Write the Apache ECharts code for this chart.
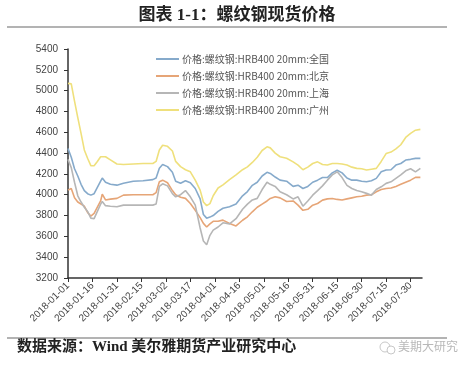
<!DOCTYPE html>
<html>
<head>
<meta charset="utf-8">
<script src="https://cdn.jsdelivr.net/npm/echarts@6/dist/echarts.min.js"></script>
<style>
  html, body { margin: 0; padding: 0; background: #fff; }
  #chart { width: 474px; height: 369px; }
</style>
</head>
<body>
<div id="chart"></div>
<script>
var seriesNames = ['价格:螺纹钢:HRB400 20mm:全国', '价格:螺纹钢:HRB400 20mm:北京', '价格:螺纹钢:HRB400 20mm:上海', '价格:螺纹钢:HRB400 20mm:广州']
var seriesColors = ['#86aacb', '#e6a577', '#b6b6b6', '#efe07c']

// sample dates, days after 2018-01-01
var days = [0, 2, 4, 6, 8, 10, 12, 14, 16, 18, 20, 21, 23, 26, 30, 34, 40, 46, 52, 54, 56, 58, 61, 64, 66, 69, 72, 75, 78, 81, 83, 85, 87, 89, 92, 95, 99, 103, 107, 110, 113, 116, 119, 122, 124, 127, 130, 134, 138, 141, 144, 147, 150, 153, 156, 159, 162, 165, 168, 171, 174, 177, 180, 183, 186, 189, 192, 195, 198, 201, 204, 207, 210, 213, 216]

var national = [4445, 4360, 4250, 4180, 4100, 4040, 4010, 3996, 4010, 4070, 4130, 4160, 4120, 4100, 4092, 4110, 4130, 4135, 4145, 4160, 4255, 4290, 4270, 4215, 4130, 4110, 4135, 4115, 4060, 3960, 3810, 3775, 3785, 3800, 3840, 3870, 3885, 3910, 3990, 4030, 4090, 4120, 4180, 4215, 4205, 4170, 4140, 4130, 4080, 4092, 4060, 4080, 4120, 4140, 4165, 4165, 4210, 4235, 4210, 4160, 4140, 4140, 4130, 4124, 4135, 4157, 4220, 4237, 4240, 4285, 4300, 4333, 4340, 4349, 4349]
var beijing = [4044, 4060, 3970, 3930, 3910, 3890, 3830, 3795, 3820, 3880, 3940, 4006, 3950, 3958, 3965, 3996, 4000, 4000, 4000, 4020, 4125, 4140, 4115, 4040, 4000, 3975, 3965, 3915, 3850, 3780, 3725, 3690, 3720, 3745, 3745, 3756, 3724, 3700, 3755, 3788, 3836, 3880, 3910, 3940, 3964, 3980, 3970, 3935, 3940, 3900, 3850, 3860, 3900, 3916, 3948, 3960, 3964, 3955, 3950, 3960, 3970, 3980, 3985, 3996, 4000, 4028, 4050, 4060, 4065, 4080, 4100, 4120, 4140, 4167, 4167]
var shanghai = [4340, 4260, 4120, 3990, 3930, 3880, 3840, 3775, 3770, 3840, 3910, 3935, 3895, 3890, 3884, 3900, 3900, 3900, 3900, 3910, 4080, 4105, 4085, 4010, 3980, 4000, 4040, 3980, 3900, 3680, 3555, 3520, 3610, 3660, 3690, 3730, 3720, 3770, 3860, 3910, 3950, 3965, 4050, 4120, 4100, 4080, 4028, 4000, 3960, 3980, 3890, 3940, 3996, 4040, 4085, 4140, 4190, 4220, 4165, 4090, 4060, 4040, 4028, 4013, 3996, 4050, 4076, 4109, 4124, 4157, 4190, 4230, 4250, 4220, 4253]
var guangzhou = [5070, 5065, 4900, 4740, 4590, 4430, 4350, 4280, 4278, 4320, 4365, 4372, 4365, 4335, 4295, 4290, 4295, 4300, 4300, 4320, 4430, 4475, 4465, 4420, 4320, 4270, 4240, 4220, 4140, 4044, 3930, 3895, 3915, 3990, 4065, 4095, 4145, 4190, 4240, 4268, 4310, 4360, 4425, 4460, 4450, 4400, 4365, 4350, 4316, 4285, 4240, 4265, 4300, 4316, 4290, 4285, 4300, 4300, 4295, 4285, 4265, 4253, 4250, 4237, 4245, 4253, 4320, 4395, 4410, 4440, 4480, 4550, 4590, 4620, 4628]

// x tick labels every 15 days
var tickDays = [0, 15, 30, 45, 60, 75, 90, 105, 120, 135, 150, 165, 180, 195, 210]

var baseDate = Date.UTC(2018, 0, 1)

function dayLabel(v) {
  var d = new Date(baseDate + v * 86400000)
  var m = d.getUTCMonth() + 1
  var dd = d.getUTCDate()
  return d.getUTCFullYear() + '-' + (m < 10 ? '0' + m : m) + '-' + (dd < 10 ? '0' + dd : dd)
}

function pairs(values) {
  var out = []
  for (var i = 0; i < days.length; ++i) {
    out.push([days[i], values[i]])
  }
  return out
}

var allValues = [national, beijing, shanghai, guangzhou]
var series = []
for (var i = 0; i < seriesNames.length; ++i) {
  series.push({
    name: seriesNames[i],
    type: 'line',
    symbol: 'none',
    smooth: false,
    lineStyle: {color: seriesColors[i], width: 1.6},
    itemStyle: {color: seriesColors[i]},
    data: pairs(allValues[i])
  })
}

var chart = echarts.init(document.getElementById('chart'))
var option = {
  animation: false,
  backgroundColor: '#fff',
  title: {
    text: '图表 1-1：螺纹钢现货价格',
    left: 'center',
    top: 2,
    textStyle: {
      fontFamily: '"Liberation Serif", "Noto Sans CJK SC", serif',
      fontWeight: 'bold',
      fontSize: 17,
      color: '#222'
    }
  },
  graphic: [
    {type: 'line', shape: {x1: 7, y1: 27, x2: 447, y2: 27}, style: {stroke: '#9a9a9a', lineWidth: 1.5}},
    {type: 'line', shape: {x1: 7, y1: 338, x2: 447, y2: 338}, style: {stroke: '#9a9a9a', lineWidth: 1.5}},
    {
      type: 'text', left: 17, top: 340,
      style: {
        text: '数据来源：Wind 美尔雅期货产业研究中心',
        font: 'bold 15px "Liberation Serif", "Noto Sans CJK SC", serif',
        fill: '#222'
      }
    },
    {type: 'circle', shape: {cx: 385, cy: 347, r: 5}, style: {fill: 'none', stroke: '#c8c8c8', lineWidth: 1}},
    {type: 'circle', shape: {cx: 391, cy: 350, r: 4}, style: {fill: '#fff', stroke: '#c8c8c8', lineWidth: 1}},
    {
      type: 'text', left: 398, top: 340,
      style: {
        text: '美期大研究',
        font: '12px "Noto Sans CJK SC", sans-serif',
        fill: '#b8b8b8'
      }
    }
  ],
  legend: {
    orient: 'vertical',
    left: 151,
    top: 49,
    icon: 'rect',
    itemWidth: 23,
    itemHeight: 2,
    itemGap: 7,
    data: seriesNames,
    textStyle: {fontSize: 10, color: '#555', padding: [0, 0, 0, -2], fontFamily: '"Noto Sans CJK SC", sans-serif'}
  },
  grid: {left: 68, right: 52, top: 49, bottom: 91, containLabel: false},
  xAxis: {
    type: 'value',
    min: 0,
    max: 217,
    interval: 15,
    splitLine: {show: false},
    axisLine: {lineStyle: {color: '#333', width: 1.5}},
    axisTick: {show: true, length: 4, customValues: tickDays, lineStyle: {color: '#333'}},
    axisLabel: {
      customValues: tickDays,
      rotate: 45,
      fontSize: 10,
      color: '#444',
      margin: 6,
      formatter: function(v) { return dayLabel(v) }
    }
  },
  yAxis: {
    type: 'value',
    min: 3200,
    max: 5400,
    interval: 200,
    splitLine: {show: false},
    axisLine: {show: true, lineStyle: {color: '#333', width: 1.5}},
    axisTick: {show: true, length: 4, lineStyle: {color: '#333'}},
    axisLabel: {fontSize: 10, color: '#444', margin: 10, formatter: function(v) { return String(v) }}
  },
  series: series
}
chart.setOption(option)
</script>
</body>
</html>
